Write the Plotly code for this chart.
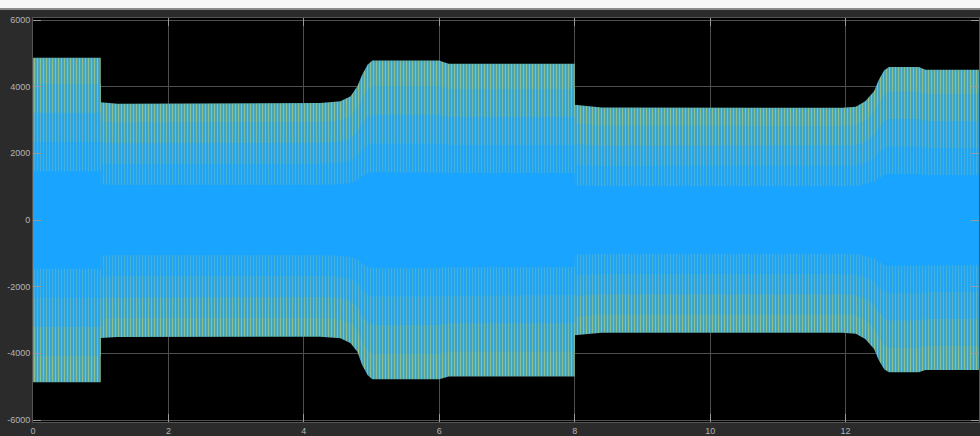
import plotly.graph_objects as go

# Envelope of the phase currents (time in s, current in A)
t_env = [0.0, 1.0, 1.0, 1.25, 4.24, 4.54, 4.69, 4.79, 4.86, 4.94, 5.01, 6.0, 6.07, 6.14,
         8.0, 8.0, 8.4, 11.95, 12.15, 12.29, 12.42, 12.49, 12.57, 12.64, 13.08, 13.18, 14.1]
upper_env = [4870, 4870, 3530, 3490, 3510, 3560, 3710, 4010, 4360, 4660, 4785, 4785, 4730, 4690,
             4690, 3460, 3375, 3365, 3395, 3560, 3860, 4210, 4490, 4590, 4590, 4505, 4505]
lower_env = [-4865, -4865, -3540, -3510, -3500, -3550, -3700, -3950, -4350, -4650, -4775, -4775, -4730, -4695,
             -4695, -3460, -3380, -3380, -3410, -3570, -3870, -4210, -4480, -4570, -4570, -4500, -4500]

x_ticks = [0, 2, 4, 6, 8, 10, 12, 14]
y_ticks = [-6000, -4000, -2000, 0, 2000, 4000, 6000]

# Overlapping traces get denser towards zero: from the ripple zone at the
# envelope down to the solid core
layers = [
    (1.00, dict(shape="|", bgcolor="#3a9fca", fgcolor="#8cc08a", size=3, solidity=0.45, fillmode="replace")),
    (0.84, dict(shape="|", bgcolor="#33a2d6", fgcolor="#78bb9e", size=3, solidity=0.38, fillmode="replace")),
    (0.66, dict(shape="|", bgcolor="#29a5e6", fgcolor="#60b5c2", size=3, solidity=0.32, fillmode="replace")),
    (0.48, dict(shape="|", bgcolor="#1fa5f4", fgcolor="#4eb1d6", size=3, solidity=0.26, fillmode="replace")),
    (0.30, None),
]

fig = go.Figure()
for scale, pattern in layers:
    xs = t_env + t_env[::-1]
    ys = [u * scale for u in upper_env] + [l * scale for l in lower_env][::-1]
    kw = dict(fillpattern=pattern, fillcolor=pattern["bgcolor"]) if pattern else dict(fillcolor="#19a4ff")
    fig.add_trace(go.Scatter(
        x=xs, y=ys, mode="lines", fill="toself",
        line=dict(width=0, color="rgba(0,0,0,0)"),
        hoverinfo="skip", showlegend=False, **kw))

axis_common = dict(
    showgrid=True, gridcolor="#4e4e4e", gridwidth=1, zeroline=False,
    showline=True, linecolor="#555555", linewidth=1, mirror="ticks",
    ticks="inside", ticklen=8, tickcolor="#9a9a9a", tickwidth=1,
    tickfont=dict(family="Liberation Sans, Arial, sans-serif", size=9, color="#b4b4b4"),
)

fig.update_xaxes(range=[0, 13.97], tickvals=x_ticks, ticktext=[str(v) for v in x_ticks], **axis_common)
fig.update_yaxes(range=[-6060, 6060], tickvals=y_ticks, ticktext=[str(v) for v in y_ticks], **axis_common)

fig.update_layout(
    width=980, height=436,
    margin=dict(l=33, r=0, t=18, b=12),
    paper_bgcolor="#2b2b2b", plot_bgcolor="#000000",
    shapes=[
        dict(type="rect", xref="paper", yref="paper", x0=-0.05, x1=1.05, y0=1.0246, y1=1.06,
             fillcolor="#f6f6f6", line=dict(width=0), layer="above"),
        dict(type="rect", xref="paper", yref="paper", x0=-0.05, x1=1.05, y0=1.0197, y1=1.0246,
             fillcolor="#8a8a8a", line=dict(width=0), layer="above"),
    ],
)

fig.write_html("out.html")
